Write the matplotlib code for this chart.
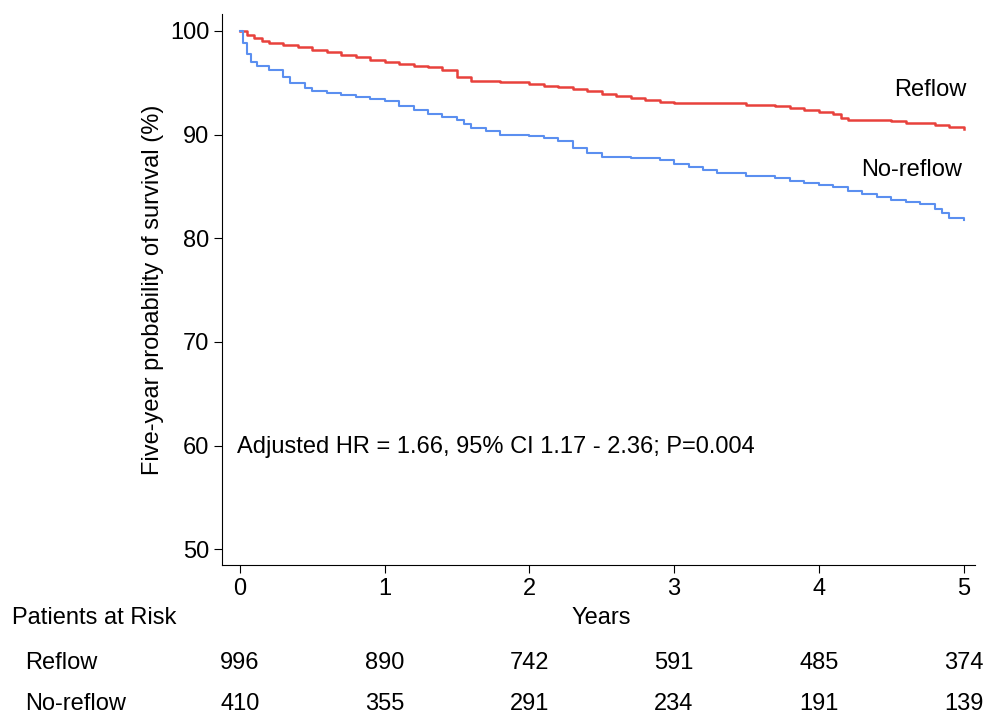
import matplotlib
matplotlib.use("Agg")
import matplotlib.pyplot as plt
from matplotlib.transforms import blended_transform_factory

plt.rcParams['font.family'] = ['Liberation Sans', 'DejaVu Sans']

reflow_t = [0,0.05,0.1,0.15,0.2,0.3,0.4,0.5,0.6,0.7,0.8,0.9,1.0,1.1,1.2,1.3,1.4,1.5,1.6,1.8,2.0,2.1,2.2,2.3,2.4,2.5,2.6,2.7,2.8,2.9,3.0,3.3,3.5,3.7,3.8,3.9,4.0,4.1,4.15,4.2,4.5,4.6,4.8,4.9,5.0]
reflow_s = [100,99.6,99.3,99.0,98.8,98.6,98.4,98.2,98.0,97.7,97.5,97.2,97.0,96.8,96.6,96.5,96.2,95.6,95.2,95.1,94.9,94.7,94.6,94.4,94.2,93.9,93.7,93.5,93.3,93.1,93.0,93.0,92.9,92.8,92.6,92.4,92.2,92.0,91.6,91.4,91.3,91.1,90.9,90.7,90.5]
noreflow_t = [0,0.02,0.05,0.08,0.12,0.2,0.3,0.35,0.45,0.5,0.6,0.7,0.8,0.9,1.0,1.1,1.2,1.3,1.4,1.5,1.55,1.6,1.7,1.8,2.0,2.1,2.2,2.3,2.4,2.5,2.7,2.9,3.0,3.1,3.2,3.3,3.5,3.7,3.8,3.9,4.0,4.1,4.2,4.3,4.4,4.5,4.6,4.7,4.8,4.85,4.9,5.0]
noreflow_s = [100,98.8,97.8,97.0,96.6,96.2,95.6,95.0,94.5,94.2,94.0,93.8,93.6,93.4,93.2,92.8,92.4,92.0,91.7,91.4,91.0,90.6,90.3,90.0,89.9,89.7,89.4,88.7,88.2,87.8,87.7,87.5,87.2,86.9,86.6,86.3,86.0,85.8,85.5,85.3,85.1,84.9,84.6,84.3,84.0,83.7,83.5,83.3,82.8,82.4,82.0,81.8]
years = [0,1,2,3,4,5]
risk_reflow = [996,890,742,591,485,374]
risk_noreflow = [410,355,291,234,191,139]

fig = plt.figure(figsize=(9.93,7.15), dpi=100)
ax = fig.add_axes([0.224, 0.21, 0.758, 0.77])
ax.step(reflow_t, reflow_s, where='post', color='#e8413c', lw=1.8)
ax.step(noreflow_t, noreflow_s, where='post', color='#5b8ff0', lw=1.5)
ax.set_xlim(-0.12, 5.08)
ax.set_ylim(48.5, 101.6)
ax.set_yticks([50,60,70,80,90,100])
ax.set_xticks(years)
ax.tick_params(labelsize=17, length=6)
for s in ['top','right']:
    ax.spines[s].set_visible(False)
ax.set_ylabel('Five-year probability of survival (%)', fontsize=17)
ax.text(4.77, 93.7, 'Reflow', fontsize=17, ha='center')
ax.text(4.64, 86.0, 'No-reflow', fontsize=17, ha='center')
ax.text(-0.02, 59.3, 'Adjusted HR = 1.66, 95% CI 1.17 - 2.36; P=0.004', fontsize=17)
tr = blended_transform_factory(ax.transData, fig.transFigure)
fig.text(0.012, 0.135, 'Patients at Risk', fontsize=17, va='center')
fig.text(0.605, 0.135, 'Years', fontsize=17, ha='center', va='center')
fig.text(0.025, 0.073, 'Reflow', fontsize=17, va='center')
fig.text(0.025, 0.015, 'No-reflow', fontsize=17, va='center')
for x, a, b in zip(years, risk_reflow, risk_noreflow):
    ax.text(x, 0.073, str(a), transform=tr, fontsize=17, ha='center', va='center')
    ax.text(x, 0.015, str(b), transform=tr, fontsize=17, ha='center', va='center')
fig.savefig('out.png', dpi=100)
